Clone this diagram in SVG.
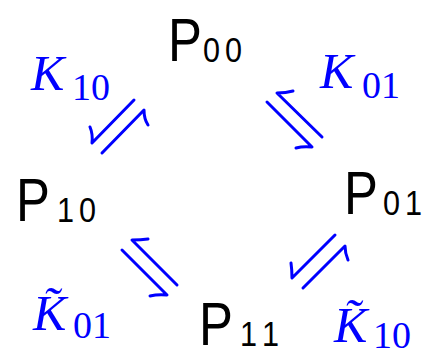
<svg xmlns="http://www.w3.org/2000/svg" width="425" height="357" viewBox="0 0 425 357">
<style>
.P{font-family:"Liberation Sans",Arial,sans-serif;font-size:62px;fill:#000}
.s{font-family:"Liberation Sans",Arial,sans-serif;font-size:36px;fill:#000}
.K{font-family:"Liberation Serif","Times New Roman",serif;font-style:italic;font-size:50px;fill:#0000ff}
.ks{font-family:"Liberation Serif","Times New Roman",serif;font-size:38px;fill:#0000ff}
.h{fill:none;stroke:#0000ff;stroke-width:3;stroke-linecap:round;stroke-linejoin:round}
</style>
<rect width="425" height="357" fill="#fff"/>
<g id="P00">
<text class="P" transform="translate(168,61) scale(0.82,1)">P</text>
<text class="s" transform="translate(203,62) scale(0.85,1)">0<tspan dx="6">0</tspan></text>
</g>
<g id="P10">
<text class="P" transform="translate(16,221) scale(0.82,1)">P</text>
<text class="s" transform="translate(57,222) scale(0.85,1)">1<tspan dx="6">0</tspan></text>
</g>
<g id="P01">
<text class="P" transform="translate(344,214) scale(0.82,1)">P</text>
<text class="s" transform="translate(383,215) scale(0.85,1)">0<tspan dx="6">1</tspan></text>
</g>
<g id="P11">
<text class="P" transform="translate(199,345) scale(0.82,1)">P</text>
<text class="s" transform="translate(240,346) scale(0.85,1)">1<tspan dx="6">1</tspan></text>
</g>
<g id="connectors">
<path class="h" d="M134,100 L92,143 Q93,134 90,127"/>
<path class="h" d="M102,153 L144,110 Q144,119 148,125"/>
<path class="h" d="M322,137 L277,93 Q286,93 293,91"/>
<path class="h" d="M267,102 L312,147 Q303,146 296,148"/>
<path class="h" d="M177,285 L132,240 Q141,240 148,239"/>
<path class="h" d="M122,250 L167,295 Q158,294 150,296"/>
<path class="h" d="M335,235 L292,278 Q292,270 291,263"/>
<path class="h" d="M303,288 L345,246 Q345,253 348,260"/>
</g>
<g id="labels">
<text class="K" x="31" y="90">K</text><text class="ks" x="72" y="100">10</text>
<text class="K" x="320" y="88">K</text><text class="ks" x="362" y="98">01</text>
<text class="K" x="33" y="330">K&#x303;</text><text class="ks" x="73" y="338">01</text>
<text class="K" x="334" y="342">K&#x303;</text><text class="ks" x="373" y="348">10</text>
</g>
</svg>
